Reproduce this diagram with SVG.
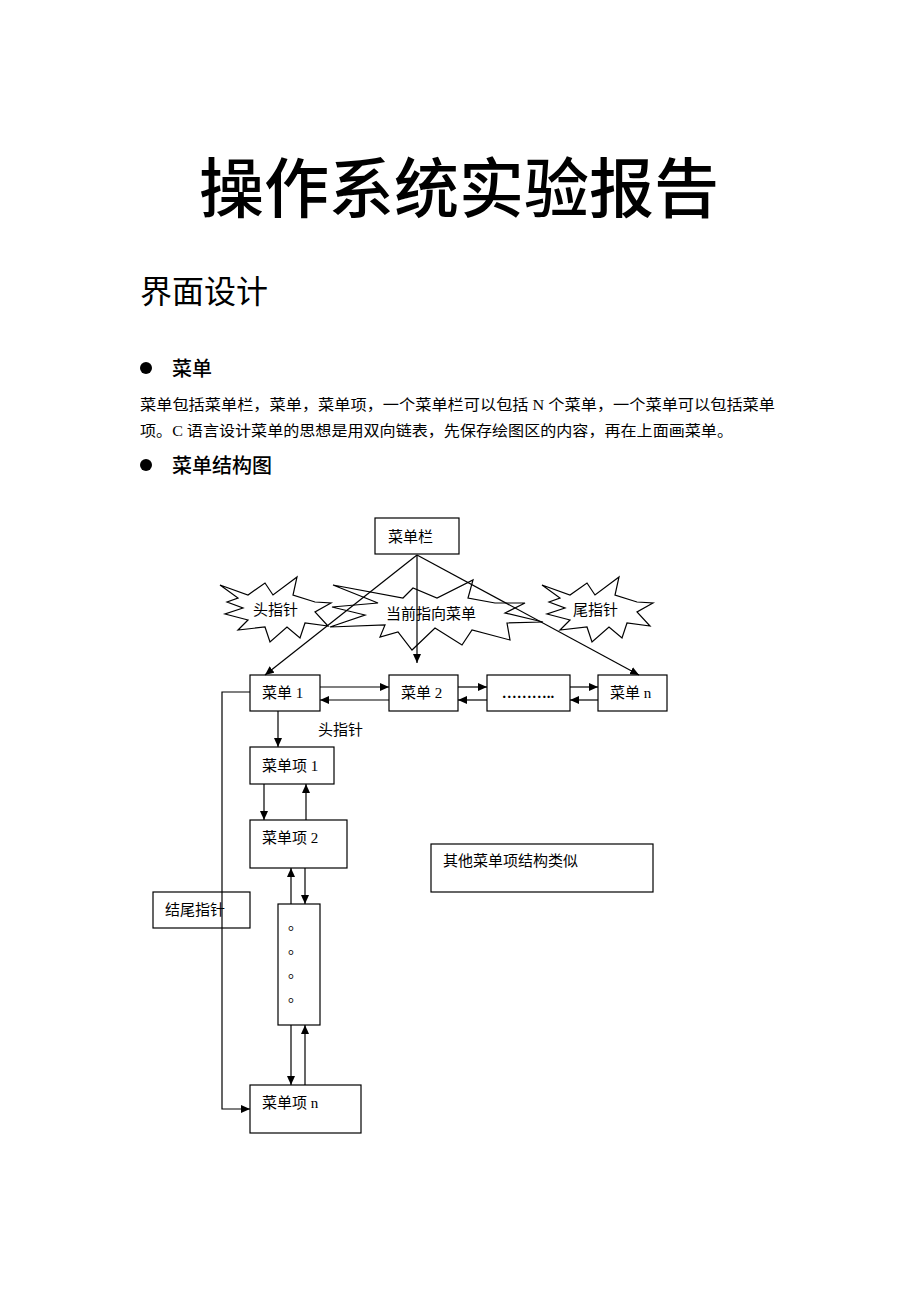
<svg xmlns="http://www.w3.org/2000/svg" width="920" height="1302" viewBox="0 0 920 1302">
<defs>
<marker id="ah" markerUnits="userSpaceOnUse" markerWidth="10" markerHeight="8" refX="9" refY="4" orient="auto">
<path d="M0,0 L9,4 L0,8 z" fill="#000"/>
</marker>
<polygon id="starA" points="220,585 248,595 265,583 273,595 297,577 293,595 315,602 331,603 315,612 328,626 305,623 300,638 287,627 270,642 265,627 238,630 248,620 225,614 243,608 227,602 238,598"/>
</defs>
<style>
.box{fill:#fff;stroke:#000;stroke-width:1.2}
.star{fill:none;stroke:#000;stroke-width:1.2}
.ln{fill:none;stroke:#000;stroke-width:1.2}
.lbl{font-family:"Liberation Serif","Noto Sans CJK SC",serif;font-size:15px;fill:#000}
.body{font-family:"Liberation Serif","Noto Sans CJK SC",serif;font-size:15px;fill:#000}
.h{font-family:"Noto Sans CJK SC",sans-serif;fill:#000}
</style>
<rect width="920" height="1302" fill="#fff"/>
<g id="texts">
<text class="h" x="459" y="212" font-size="65" font-weight="500" text-anchor="middle">操作系统实验报告</text>
<text class="h" x="140" y="303" font-size="32">界面设计</text>
<circle cx="146" cy="368" r="6" fill="#000"/>
<text class="h" x="172" y="376" font-size="20" font-weight="500">菜单</text>
<text class="body" x="140" y="410" textLength="635" lengthAdjust="spacingAndGlyphs">菜单包括菜单栏，菜单，菜单项，一个菜单栏可以包括 N 个菜单，一个菜单可以包括菜单</text>
<text class="body" x="140" y="436" textLength="593" lengthAdjust="spacingAndGlyphs">项。C 语言设计菜单的思想是用双向链表，先保存绘图区的内容，再在上面画菜单。</text>
<circle cx="146" cy="465" r="6" fill="#000"/>
<text class="h" x="172" y="473" font-size="20" font-weight="500">菜单结构图</text>
</g>
<g id="star-head">
<use href="#starA" class="star"/>
<text class="lbl" x="253" y="615">头指针</text>
</g>
<g id="star-current">
<polygon class="star" points="333,585 403,598 413,588 437,598 473,580 468,598 495,603 525,603 505,613 543,622 507,623 510,640 472,630 462,645 435,628 412,650 398,632 380,637 385,625 330,627 365,615 332,607 378,603"/>
<text class="lbl" x="386" y="619">当前指向菜单</text>
</g>
<g id="star-tail">
<use href="#starA" class="star" transform="translate(322,0)"/>
<text class="lbl" x="573" y="615">尾指针</text>
</g>
<g id="menubar">
<rect class="box" x="375" y="518" width="84" height="36"/>
<text class="lbl" x="388" y="542">菜单栏</text>
</g>
<g id="menu1">
<rect class="box" x="250" y="675" width="70" height="36"/>
<text class="lbl" x="262" y="698">菜单 1</text>
</g>
<g id="menu2">
<rect class="box" x="389" y="675" width="69" height="36"/>
<text class="lbl" x="401" y="698">菜单 2</text>
</g>
<g id="menudots">
<rect class="box" x="487" y="675" width="83" height="36"/>
<text class="lbl" x="528" y="698" text-anchor="middle" font-weight="700">………..</text>
</g>
<g id="menun">
<rect class="box" x="598" y="675" width="69" height="36"/>
<text class="lbl" x="610" y="698">菜单 n</text>
</g>
<g id="item1">
<rect class="box" x="250" y="747" width="84" height="37"/>
<text class="lbl" x="262" y="771">菜单项 1</text>
</g>
<g id="item2">
<rect class="box" x="250" y="820" width="97" height="48"/>
<text class="lbl" x="262" y="843">菜单项 2</text>
</g>
<g id="itemdots">
<rect class="box" x="278" y="904" width="42" height="121"/>
<text class="lbl" x="288" y="929" font-size="11">。</text>
<text class="lbl" x="288" y="953" font-size="11">。</text>
<text class="lbl" x="288" y="977" font-size="11">。</text>
<text class="lbl" x="288" y="1001" font-size="11">。</text>
</g>
<g id="itemn">
<rect class="box" x="250" y="1085" width="111" height="48"/>
<text class="lbl" x="262" y="1108">菜单项 n</text>
</g>
<g id="tailptr">
<rect class="box" x="153" y="892" width="97" height="36"/>
<text class="lbl" x="165" y="915">结尾指针</text>
</g>
<g id="note">
<rect class="box" x="431" y="844" width="222" height="48"/>
<text class="lbl" x="443" y="866">其他菜单项结构类似</text>
</g>
<g id="connectors">
<line class="ln" x1="417" y1="555" x2="265" y2="675" marker-end="url(#ah)"/>
<line class="ln" x1="417" y1="555" x2="417" y2="663" marker-end="url(#ah)"/>
<line class="ln" x1="417" y1="555" x2="639" y2="675" marker-end="url(#ah)"/>
<line class="ln" x1="320" y1="687" x2="389" y2="687" marker-end="url(#ah)"/>
<line class="ln" x1="389" y1="700" x2="320" y2="700" marker-end="url(#ah)"/>
<line class="ln" x1="458" y1="687" x2="487" y2="687" marker-end="url(#ah)"/>
<line class="ln" x1="487" y1="700" x2="458" y2="700" marker-end="url(#ah)"/>
<line class="ln" x1="570" y1="687" x2="598" y2="687" marker-end="url(#ah)"/>
<line class="ln" x1="598" y1="700" x2="570" y2="700" marker-end="url(#ah)"/>
<line class="ln" x1="278" y1="711" x2="278" y2="747" marker-end="url(#ah)"/>
<text class="lbl" x="318" y="735">头指针</text>
<line class="ln" x1="264" y1="784" x2="264" y2="820" marker-end="url(#ah)"/>
<line class="ln" x1="306" y1="820" x2="306" y2="784" marker-end="url(#ah)"/>
<line class="ln" x1="291" y1="904" x2="291" y2="868" marker-end="url(#ah)"/>
<line class="ln" x1="305" y1="868" x2="305" y2="904" marker-end="url(#ah)"/>
<line class="ln" x1="291" y1="1025" x2="291" y2="1085" marker-end="url(#ah)"/>
<line class="ln" x1="305" y1="1085" x2="305" y2="1025" marker-end="url(#ah)"/>
<polyline class="ln" points="250,692 222,692 222,1109 250,1109" marker-end="url(#ah)"/>
</g>
</svg>
